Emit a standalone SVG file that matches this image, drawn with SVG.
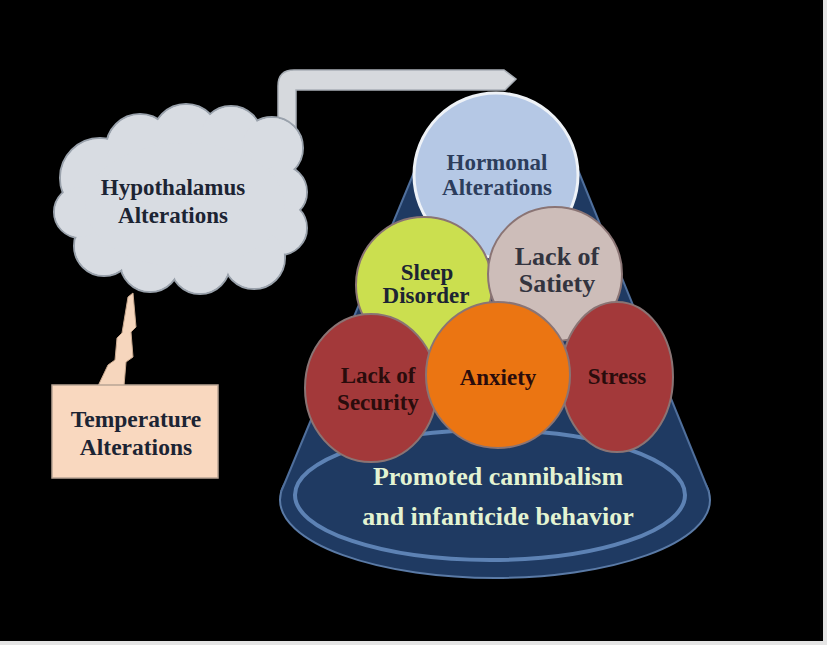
<svg xmlns="http://www.w3.org/2000/svg" width="827" height="645" viewBox="0 0 827 645">
<style>
.t{font-family:"Liberation Serif","Times New Roman",serif;font-weight:bold;text-anchor:middle}
.dk{fill:#1c2433}
.nv{fill:#2c3d5c}
.rd{fill:#2a0c0c}
.gn{fill:#e3f3d2}
.cl{fill:#d8dce2;stroke:#9aa2ac;stroke-width:2}
.cf{fill:#d8dce2}
.ball{stroke:#8a7474;stroke-width:2}
</style>
<rect x="0" y="0" width="827" height="645" fill="#e4e4e4"/>
<rect x="0" y="0" width="823" height="641" fill="#000"/>

<g id="connectors">
  <path d="M278,143 L278,86 Q278,70 294,70 L504,70 L516,79 L505,90 L296,90 L296,143 Z" fill="#d6d9dd" stroke="#a9afb6" stroke-width="1.5"/>
  <polygon points="133,293 136,327 131,332 133,357 126,362 124,386 98,386 108,365 115,360 117,338 122,333 128,297" fill="#f6d6bd" stroke="#c9a98f" stroke-width="1"/>
</g>

<g id="hypothalamus">
  <g class="cl">
    <circle cx="100" cy="178" r="40"/>
    <circle cx="140" cy="148" r="34"/>
    <circle cx="186" cy="138" r="34"/>
    <circle cx="231" cy="137" r="31"/>
    <circle cx="272" cy="148" r="31"/>
    <circle cx="280" cy="192" r="27"/>
    <circle cx="280" cy="228" r="27"/>
    <circle cx="254" cy="258" r="31"/>
    <circle cx="200" cy="264" r="30"/>
    <circle cx="150" cy="262" r="30"/>
    <circle cx="104" cy="246" r="30"/>
    <circle cx="80" cy="212" r="26"/>
  </g>
  <g class="cf">
    <circle cx="100" cy="178" r="39"/>
    <circle cx="140" cy="148" r="33"/>
    <circle cx="186" cy="138" r="33"/>
    <circle cx="231" cy="137" r="30"/>
    <circle cx="272" cy="148" r="30"/>
    <circle cx="280" cy="192" r="26"/>
    <circle cx="280" cy="228" r="26"/>
    <circle cx="254" cy="258" r="30"/>
    <circle cx="200" cy="264" r="29"/>
    <circle cx="150" cy="262" r="29"/>
    <circle cx="104" cy="246" r="29"/>
    <circle cx="80" cy="212" r="25"/>
    <ellipse cx="185" cy="205" rx="100" ry="62"/>
  </g>
  <text class="t dk" x="173" y="195" font-size="23">Hypothalamus</text>
  <text class="t dk" x="173" y="223" font-size="23">Alterations</text>
</g>

<g id="temperature">
  <rect x="52" y="385" width="166" height="93" fill="#f9d8bf" stroke="#b9a595" stroke-width="1.5"/>
  <text class="t dk" x="136" y="427" font-size="23.5">Temperature</text>
  <text class="t dk" x="136" y="455" font-size="23.5">Alterations</text>
</g>

<g id="cone">
  <ellipse cx="495" cy="500" rx="215" ry="78" fill="#1f3a62" stroke="#5a7aa6" stroke-width="2"/>
  <polygon points="415,170 578,170 709,492 281,492" fill="#1f3a62"/>
  <line x1="415" y1="170" x2="281" y2="492" stroke="#4f6f9c" stroke-width="2"/>
  <line x1="578" y1="170" x2="709" y2="492" stroke="#4f6f9c" stroke-width="2"/>
  <ellipse cx="490" cy="495" rx="195" ry="65" fill="none" stroke="#5d82b4" stroke-width="4"/>
  <text class="t gn" x="498" y="485" font-size="26">Promoted cannibalism</text>
  <text class="t gn" x="498" y="525" font-size="26">and infanticide behavior</text>
</g>

<g id="hormonal">
  <circle cx="496" cy="175" r="82" fill="#b5c8e5" stroke="#eef2f7" stroke-width="3"/>
  <text class="t nv" x="497" y="170" font-size="23">Hormonal</text>
  <text class="t nv" x="497" y="195" font-size="23">Alterations</text>
</g>

<g id="sleep">
  <circle cx="424" cy="285" r="68" fill="#cbdf4f" class="ball"/>
  <text class="t dk" x="427" y="280" font-size="23">Sleep</text>
  <text class="t dk" x="426" y="303" font-size="23">Disorder</text>
</g>

<g id="satiety">
  <circle cx="555" cy="274" r="67" fill="#cdbdb9" class="ball"/>
  <text class="t" fill="#33343f" x="557" y="265" font-size="26">Lack of</text>
  <text class="t" fill="#33343f" x="557" y="292" font-size="26">Satiety</text>
</g>

<g id="security">
  <ellipse cx="371" cy="388" rx="66" ry="74" fill="#a3393a" class="ball"/>
  <text class="t rd" x="378" y="383" font-size="23">Lack of</text>
  <text class="t rd" x="378" y="410" font-size="23">Security</text>
</g>

<g id="stress">
  <ellipse cx="617" cy="377" rx="56" ry="75" fill="#a3393a" class="ball"/>
  <text class="t rd" x="617" y="384" font-size="23">Stress</text>
</g>

<g id="anxiety">
  <ellipse cx="498" cy="375" rx="72" ry="73" fill="#eb7512" class="ball"/>
  <text class="t rd" x="498" y="385" font-size="23">Anxiety</text>
</g>
</svg>
